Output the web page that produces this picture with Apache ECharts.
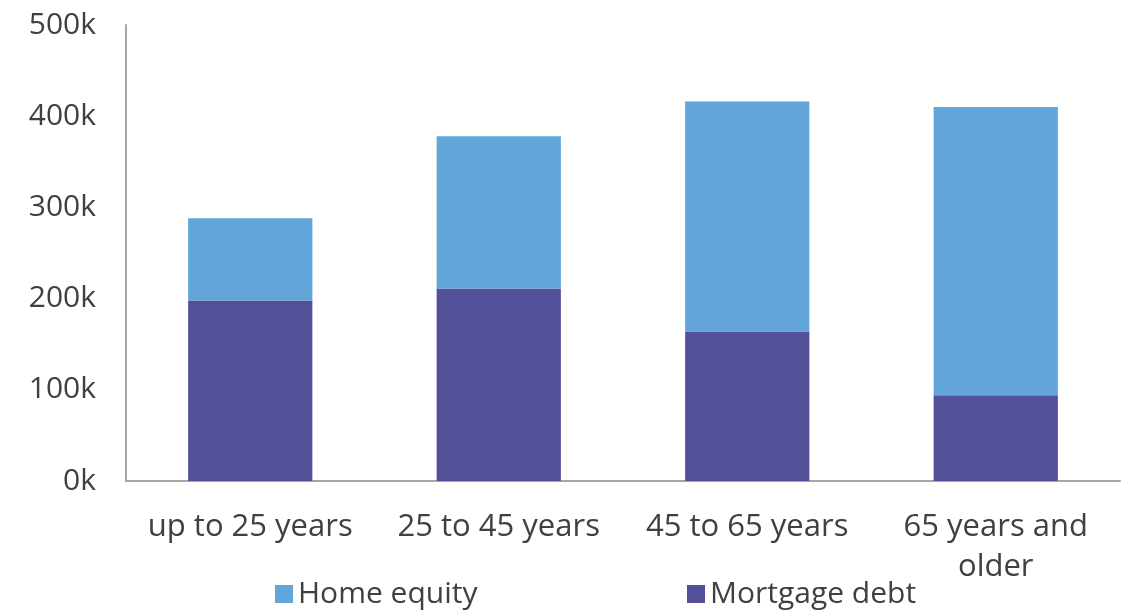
<!DOCTYPE html>
<html>
<head>
<meta charset="utf-8">
<script src="https://cdn.jsdelivr.net/npm/echarts@6/dist/echarts.min.js"></script>
<style>
  html, body { margin: 0; padding: 0; background: #fff; }
  #chart { width: 1132px; height: 610px; }
</style>
</head>
<body>
<div id="chart"></div>
<script>
// age groups
const categories = ['up to 25 years', '25 to 45 years', '45 to 65 years', '65 years and older']
// values in thousands
const mortgageDebt = [198, 211, 164, 94]
const homeEquity = [90, 167, 252, 316]
const yTicks = [0, 100, 200, 300, 400, 500]

const FONT = 'Open Sans'
const TEXT = '#404040'

const chart = echarts.init(document.getElementById('chart'))
const option = {
  animation: false,
  textStyle: { fontFamily: FONT },
  grid: {
    left: 126,
    right: 12,
    top: 25,
    bottom: 129
  },
  legend: [
    {
      data: ['Home equity'],
      left: 270,
      top: 574,
      itemWidth: 18,
      itemHeight: 18,
      itemGap: 8,
      icon: 'rect',
      textStyle: { fontSize: 30, color: TEXT, fontFamily: FONT }
    },
    {
      data: ['Mortgage debt'],
      left: 682,
      top: 574,
      itemWidth: 18,
      itemHeight: 18,
      icon: 'rect',
      textStyle: { fontSize: 30, color: TEXT, fontFamily: FONT }
    }
  ],
  xAxis: {
    type: 'category',
    data: categories,
    axisLine: { lineStyle: { color: '#a6a6a6', width: 2 } },
    axisTick: { show: false },
    axisLabel: {
      interval: 0,
      margin: 26,
      fontSize: 31,
      lineHeight: 40,
      color: TEXT,
      formatter: v => v === '65 years and older' ? '65 years and\nolder' : v
    }
  },
  yAxis: {
    type: 'value',
    min: yTicks[0],
    max: yTicks[yTicks.length - 1],
    interval: 100,
    axisLine: { show: true, lineStyle: { color: '#a6a6a6', width: 2 } },
    axisTick: { show: false },
    splitLine: { show: false },
    axisLabel: {
      margin: 30,
      fontSize: 30,
      color: TEXT,
      formatter: v => v + 'k'
    }
  },
  series: [
    {
      name: 'Mortgage debt',
      type: 'bar',
      stack: 'total',
      barWidth: '50%',
      data: mortgageDebt,
      itemStyle: { color: '#534f98' }
    },
    {
      name: 'Home equity',
      type: 'bar',
      stack: 'total',
      barWidth: '50%',
      data: homeEquity,
      itemStyle: { color: '#62a6d9' }
    }
  ]
}
chart.setOption(option)
</script>
</body>
</html>
